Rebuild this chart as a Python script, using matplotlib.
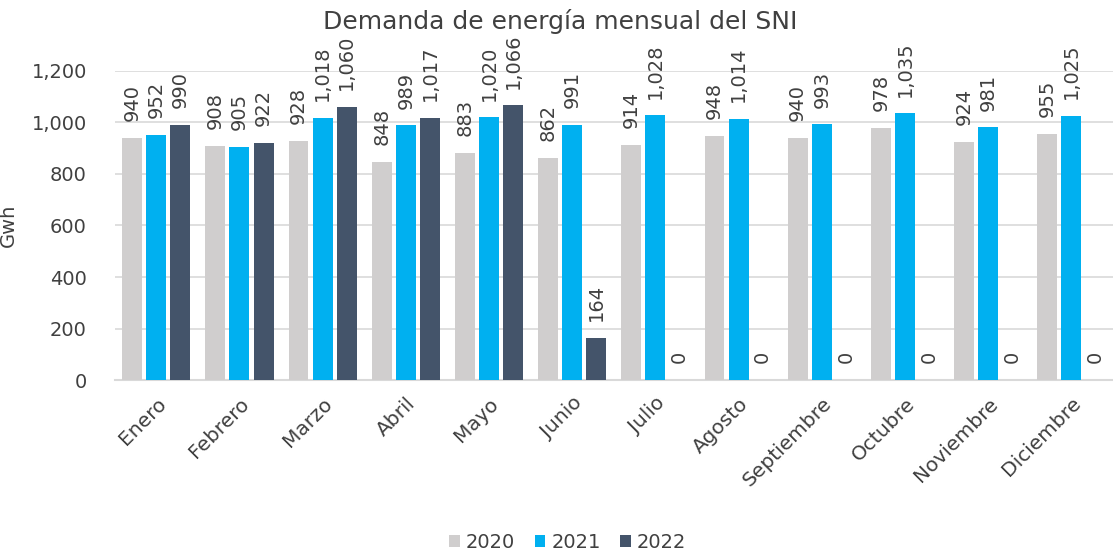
import matplotlib.pyplot as plt
import numpy as np

meses = ['Enero', 'Febrero', 'Marzo', 'Abril', 'Mayo', 'Junio', 'Julio',
         'Agosto', 'Septiembre', 'Octubre', 'Noviembre', 'Diciembre']
anios = ['2020', '2021', '2022']
v2020 = [940, 908, 928, 848, 883, 862, 914, 948, 940, 978, 924, 955]
v2021 = [952, 905, 1018, 989, 1020, 991, 1028, 1014, 993, 1035, 981, 1025]
v2022 = [990, 922, 1060, 1017, 1066, 164, 0, 0, 0, 0, 0, 0]
yticks = [0, 200, 400, 600, 800, 1000, 1200]

colores = ['#d0cece', '#00b0f0', '#44546a']
texto = '#404040'

plt.rcParams['font.family'] = ['DejaVu Sans']

fig = plt.figure(figsize=(11.13, 5.5), dpi=100)
ax = fig.add_axes([0.103, 0.309, 0.897, 0.562])

x = np.arange(len(meses))
ancho = 0.24
paso = 0.29
for i, (serie, col, nombre) in enumerate(zip([v2020, v2021, v2022], colores, anios)):
    pos = x + (i - 1) * paso
    barras = ax.bar(pos, serie, width=ancho, color=col, label=nombre, zorder=3)
    for b, v in zip(barras, serie):
        ax.annotate(f'{v:,}', (b.get_x() + b.get_width() / 2, v),
                    xytext=(0, 12), textcoords='offset points',
                    rotation=90, ha='center', va='bottom', fontsize=14,
                    color=texto, zorder=4)

ax.set_xlim(-0.5, len(meses) - 0.5)
ax.set_ylim(0, 1200)
ax.set_yticks(yticks)
ax.set_yticklabels([f'{t:,}' for t in yticks], fontsize=14, color=texto)
ax.set_xticks(x)
ax.set_xticklabels(meses, rotation=45, ha='right', rotation_mode='anchor',
                   fontsize=14.5, color=texto)
ax.tick_params(axis='y', length=0, pad=20)
ax.tick_params(axis='x', length=0, pad=10)
ax.grid(axis='y', color='#d9d9d9', linewidth=1.2, zorder=0)
ax.set_axisbelow(True)
for lado in ['top', 'right', 'left']:
    ax.spines[lado].set_visible(False)
ax.spines['bottom'].set_color('#d9d9d9')
ax.spines['bottom'].set_linewidth(1.5)

ax.set_ylabel('Gwh', fontsize=14, color=texto)
ax.yaxis.set_label_coords(-0.097, 0.5)
fig.text(0.503, 0.96, 'Demanda de energía mensual del SNI', ha='center',
         va='center', fontsize=18, color=texto)

fig.legend(loc='lower center', bbox_to_anchor=(0.51, -0.035), ncol=3,
           frameon=False, fontsize=14, handlelength=0.55, handleheight=0.55,
           handletextpad=0.3, columnspacing=1.0, labelcolor=texto)

fig.savefig('out.png', dpi=100)
